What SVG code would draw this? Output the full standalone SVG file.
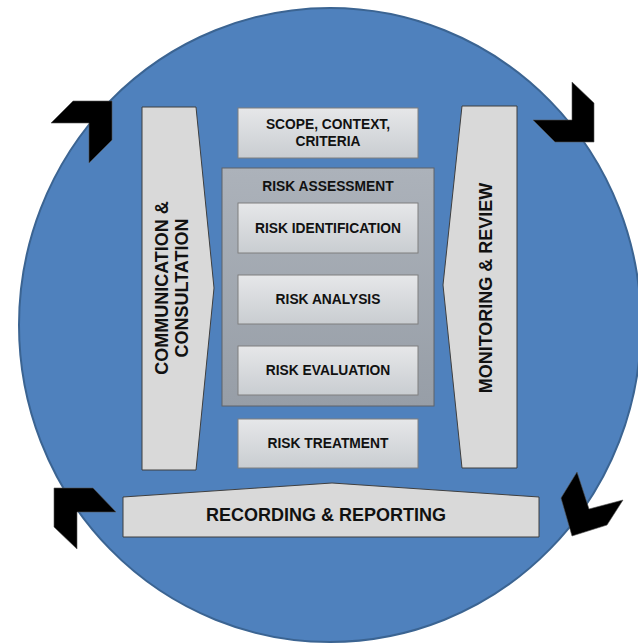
<svg xmlns="http://www.w3.org/2000/svg" width="638" height="644" viewBox="0 0 638 644">
  <style>
    .lbl { font-family: "Liberation Sans", Arial, sans-serif; font-weight: bold; fill: #111; text-anchor: middle; }
    .box { font-size: 13.8px; }
    .big { font-size: 18px; }
    .side { fill: #d9d9d9; stroke: #3f3f3f; stroke-width: 1; }
    .step { fill: url(#stepFill); stroke: #7f7f7f; stroke-width: 1; }
    .arrow { fill: #000; stroke: #555; stroke-width: 0.6; stroke-linejoin: miter; }
  </style>
  <defs>
    <linearGradient id="stepFill" x1="0" y1="0" x2="0" y2="1">
      <stop offset="0" stop-color="#e6e7e9"/>
      <stop offset="1" stop-color="#c9cdd1"/>
    </linearGradient>
    <linearGradient id="assessFill" x1="0" y1="0" x2="0" y2="1">
      <stop offset="0" stop-color="#acb2ba"/>
      <stop offset="1" stop-color="#979ea7"/>
    </linearGradient>
  </defs>

  <!-- background disc -->
  <ellipse id="disc" cx="330" cy="325" rx="311" ry="317" fill="#4f81bd" stroke="#3b6492" stroke-width="2"/>

  <!-- cycle arrows round the disc -->
  <g id="connectors">
    <polygon class="arrow" points="51,123 73,101 112,101 112,140 89,163 89,123"/>
    <polygon class="arrow" points="572,82 594,103 594,142 555,142 533,120 572,120"/>
    <polygon class="arrow" points="577,472 589,509 623,500 607,525 572,536 561,498"/>
    <polygon class="arrow" points="54,488 93,488 116,512 77,512 77,549 54,527"/>
  </g>

  <g id="communication">
    <polygon class="side" points="142,107 196,107 214,288 196,470 142,470"/>
    <text class="lbl big" transform="translate(168,288) rotate(-90)">COMMUNICATION &amp;</text>
    <text class="lbl big" transform="translate(188,288) rotate(-90)">CONSULTATION</text>
  </g>

  <g id="monitoring">
    <polygon class="side" points="462,106 517,106 517,468 462,468 443,285"/>
    <text class="lbl big" transform="translate(492,288) rotate(-90)">MONITORING &amp; REVIEW</text>
  </g>

  <g id="recording">
    <polygon class="side" points="123,497 332,483 539,497 539,537 123,537"/>
    <text class="lbl big" x="326" y="521">RECORDING &amp; REPORTING</text>
  </g>

  <g id="scope">
    <rect class="step" x="238" y="108" width="180" height="50"/>
    <text class="lbl box" x="328" y="129">SCOPE, CONTEXT,</text>
    <text class="lbl box" x="328" y="146">CRITERIA</text>
  </g>

  <g id="assessment">
    <rect x="222" y="168" width="212" height="238" fill="url(#assessFill)" stroke="#5f6368" stroke-width="1"/>
    <text class="lbl box" x="328" y="191">RISK ASSESSMENT</text>
  </g>

  <g id="identification">
    <rect class="step" x="238" y="203" width="180" height="50"/>
    <text class="lbl box" x="328" y="233">RISK IDENTIFICATION</text>
  </g>

  <g id="analysis">
    <rect class="step" x="238" y="275" width="180" height="49"/>
    <text class="lbl box" x="328" y="304">RISK ANALYSIS</text>
  </g>

  <g id="evaluation">
    <rect class="step" x="238" y="346" width="180" height="49"/>
    <text class="lbl box" x="328" y="375">RISK EVALUATION</text>
  </g>

  <g id="treatment">
    <rect class="step" x="238" y="419" width="180" height="49"/>
    <text class="lbl box" x="328" y="448">RISK TREATMENT</text>
  </g>
</svg>
